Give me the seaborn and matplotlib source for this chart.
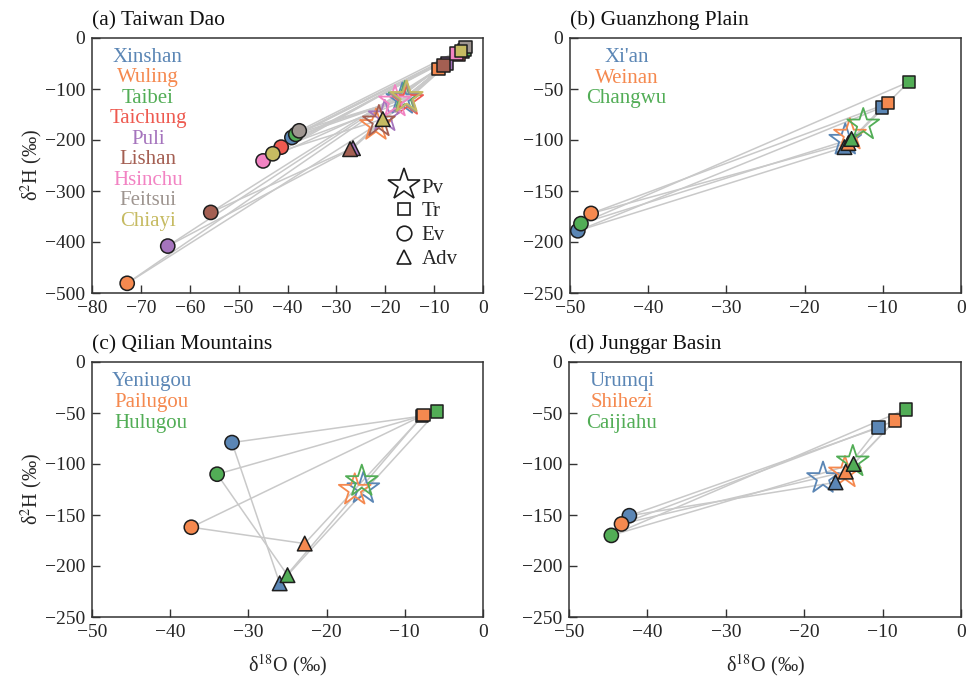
import numpy as np
import pandas as pd
import matplotlib
matplotlib.use("Agg")
import matplotlib.pyplot as plt
from matplotlib.lines import Line2D
import seaborn as sns

# ---------------- colours ----------------
BLUE, ORANGE, GREEN, RED = "#5B86B5", "#F5894F", "#52AD56", "#EE5A50"
PURPLE, BROWN, PINK, GRAY, OLIVE = "#A574BD", "#A45F52", "#F283C3", "#9E9590", "#C6BB62"

# ---------------- (a) Taiwan Dao ----------------
a_sites = ["Xinshan", "Wuling", "Taibei", "Taichung", "Puli", "Lishan", "Hsinchu", "Feitsui", "Chiayi"]
a_colors = [BLUE, ORANGE, GREEN, RED, PURPLE, BROWN, PINK, GRAY, OLIVE]
a_pv_x = [-16.5, -21.9, -16.0, -15.5, -20.1, -21.3, -18.0, -15.8, -15.6]
a_pv_y = [-120, -171, -117, -122, -154, -164, -125, -118, -116]
a_tr_x = [-4.2, -9.1, -3.8, -5.0, -7.4, -8.1, -5.4, -3.6, -4.5]
a_tr_y = [-27, -61, -23, -32, -50, -54, -30, -18, -25]
a_ev_x = [-39.1, -72.8, -38.3, -41.3, -64.5, -55.7, -45.0, -37.6, -43.0]
a_ev_y = [-195, -481, -189, -214, -408, -342, -241, -182, -227]
a_adv_x = [np.nan, np.nan, np.nan, np.nan, -26.6, -27.2, np.nan, np.nan, -20.5]
a_adv_y = [np.nan, np.nan, np.nan, np.nan, -216, -218, np.nan, np.nan, -159]

# ---------------- (b) Guanzhong Plain ----------------
b_sites = ["Xi'an", "Weinan", "Changwu"]
b_colors = [BLUE, ORANGE, GREEN]
b_pv_x = [-14.8, -14.2, -12.5]
b_pv_y = [-100, -95, -85]
b_tr_x = [-10.1, -9.3, -6.65]
b_tr_y = [-68, -64, -43]
b_ev_x = [-49.0, -47.3, -48.6]
b_ev_y = [-189, -172, -182]
b_adv_x = [-14.9, -14.4, -14.0]
b_adv_y = [-107, -103, -99]

# ---------------- (c) Qilian Mountains ----------------
c_sites = ["Yeniugou", "Pailugou", "Hulugou"]
c_colors = [BLUE, ORANGE, GREEN]
c_pv_x = [-15.3, -16.4, -15.5]
c_pv_y = [-124, -125.5, -117]
c_tr_x = [-7.8, -7.6, -5.9]
c_tr_y = [-53, -52, -48.7]
c_ev_x = [-32.1, -37.3, -34.0]
c_ev_y = [-79, -162, -110]
c_adv_x = [-26.0, -22.8, -25.0]
c_adv_y = [-217, -178, -209]

# ---------------- (d) Junggar Basin ----------------
d_sites = ["Urumqi", "Shihezi", "Caijiahu"]
d_colors = [BLUE, ORANGE, GREEN]
d_pv_x = [-17.6, -14.8, -13.8]
d_pv_y = [-114, -108.5, -97.7]
d_tr_x = [-10.5, -8.4, -7.05]
d_tr_y = [-64.4, -57.5, -46.4]
d_ev_x = [-42.3, -43.3, -44.6]
d_ev_y = [-150.7, -158.8, -170]
d_adv_x = [-16.0, -14.7, -13.7]
d_adv_y = [-118, -107.5, -100]

titles = ["(a) Taiwan Dao", "(b) Guanzhong Plain", "(c) Qilian Mountains", "(d) Junggar Basin"]
type_labels = ["Pv", "Tr", "Ev", "Adv"]

sns.set_style("ticks")
plt.rcParams["font.family"] = ["Liberation Serif", "DejaVu Serif"]
plt.rcParams["mathtext.fontset"] = "stix"
plt.rcParams["axes.unicode_minus"] = True

LINE_C = "#C9C9C9"
EDGE_C = "#1E1E1E"

fig = plt.figure(figsize=(9.72, 6.81), dpi=100)
W, H = 972.0, 681.0
def add_ax(l, t, r, b):
    return fig.add_axes([l / W, 1 - b / H, (r - l) / W, (b - t) / H])

axA = add_ax(92, 38, 483, 293)
axB = add_ax(570, 38, 961, 293)
axC = add_ax(92, 362, 483, 617)
axD = add_ax(569, 362, 961, 617)


def draw_panel(ax, sites, colors, pv_x, pv_y, tr_x, tr_y, ev_x, ev_y, adv_x, adv_y,
               title, label_x, label_y0, label_dy):
    pal = dict(zip(sites, colors))
    # connecting lines
    for i in range(len(sites)):
        if np.isnan(adv_x[i]):
            tx, ty = pv_x[i], pv_y[i]
        else:
            tx, ty = adv_x[i], adv_y[i]
        for (x0, y0, x1, y1) in [(ev_x[i], ev_y[i], tr_x[i], tr_y[i]),
                                 (ev_x[i], ev_y[i], tx, ty),
                                 (tr_x[i], tr_y[i], tx, ty)]:
            ax.plot([x0, x1], [y0, y1], color=LINE_C, lw=1.1, zorder=1)

    def frame(xs, ys):
        df = pd.DataFrame({"site": sites, "x": xs, "y": ys}).dropna()
        return df

    # Pv stars (hollow, coloured edge)
    n0 = len(ax.collections)
    sns.scatterplot(data=frame(pv_x, pv_y), x="x", y="y", hue="site", hue_order=sites,
                    palette=pal, marker="*", s=580, linewidth=0, legend=False, ax=ax, zorder=2)
    coll = ax.collections[n0]
    fcs = coll.get_facecolors()
    coll.set_edgecolors(fcs)
    coll.set_facecolors("none")
    coll.set_linewidths(1.3)
    # Tr squares
    sns.scatterplot(data=frame(tr_x, tr_y), x="x", y="y", hue="site", hue_order=sites,
                    palette=pal, marker="s", s=80, edgecolor=EDGE_C, linewidth=1.1,
                    legend=False, ax=ax, zorder=3)
    # Ev circles
    sns.scatterplot(data=frame(ev_x, ev_y), x="x", y="y", hue="site", hue_order=sites,
                    palette=pal, marker="o", s=105, edgecolor=EDGE_C, linewidth=1.1,
                    legend=False, ax=ax, zorder=3)
    # Adv triangles
    sns.scatterplot(data=frame(adv_x, adv_y), x="x", y="y", hue="site", hue_order=sites,
                    palette=pal, marker="^", s=110, edgecolor=EDGE_C, linewidth=1.1,
                    legend=False, ax=ax, zorder=4)

    # site names
    for k, (s, c) in enumerate(zip(sites, colors)):
        ax.text(label_x, label_y0 - k * label_dy, s, color=c, fontsize=15,
                ha="center", va="center", transform=ax.transAxes)

    ax.set_title(title, loc="left", fontsize=15.5, pad=9, color="#111111")
    ax.set_xlabel("")
    ax.set_ylabel("")
    for sp in ax.spines.values():
        sp.set_visible(True)
        sp.set_color("#333333")
        sp.set_linewidth(1.1)
    ax.tick_params(direction="in", length=5.5, width=1.0, color="#333333",
                   labelsize=14, pad=5, top=False, right=False)


draw_panel(axA, a_sites, a_colors, a_pv_x, a_pv_y, a_tr_x, a_tr_y, a_ev_x, a_ev_y,
           a_adv_x, a_adv_y, titles[0], 0.143, 0.925, 0.0805)
draw_panel(axB, b_sites, b_colors, b_pv_x, b_pv_y, b_tr_x, b_tr_y, b_ev_x, b_ev_y,
           b_adv_x, b_adv_y, titles[1], 0.145, 0.925, 0.082)
draw_panel(axC, c_sites, c_colors, c_pv_x, c_pv_y, c_tr_x, c_tr_y, c_ev_x, c_ev_y,
           c_adv_x, c_adv_y, titles[2], 0.152, 0.922, 0.082)
draw_panel(axD, d_sites, d_colors, d_pv_x, d_pv_y, d_tr_x, d_tr_y, d_ev_x, d_ev_y,
           d_adv_x, d_adv_y, titles[3], 0.135, 0.922, 0.082)

axA.set_xlim(-80, 0)
axA.set_ylim(-500, 0)
axA.set_xticks(np.arange(-80, 1, 10))
axA.set_yticks(np.arange(-500, 1, 100))
for ax in (axB, axC, axD):
    ax.set_xlim(-50, 0)
    ax.set_ylim(-250, 0)
    ax.set_xticks(np.arange(-50, 1, 10))
    ax.set_yticks(np.arange(-250, 1, 50))

ylab = r"δ$^{\mathrm{2}}$H (‰)"
xlab = r"δ$^{\mathrm{18}}$O (‰)"
axA.set_ylabel(ylab, fontsize=14.5, labelpad=0)
axC.set_ylabel(ylab, fontsize=14.5, labelpad=0)
axC.set_xlabel(xlab, fontsize=14.5, labelpad=8)
axD.set_xlabel(xlab, fontsize=14.5, labelpad=8)

# marker legend in (a)
handles = [
    Line2D([], [], ls="", marker="*", ms=24, mfc="none", mec=EDGE_C, mew=1.2, label=type_labels[0]),
    Line2D([], [], ls="", marker="s", ms=9, mfc="none", mec=EDGE_C, mew=1.2, label=type_labels[1]),
    Line2D([], [], ls="", marker="o", ms=10.5, mfc="none", mec=EDGE_C, mew=1.2, label=type_labels[2]),
    Line2D([], [], ls="", marker="^", ms=10, mfc="none", mec=EDGE_C, mew=1.2, label=type_labels[3]),
]
axA.legend(handles=handles, loc="upper left", bbox_to_anchor=(0.757, 0.451),
           frameon=False, borderpad=0, borderaxespad=0, handlelength=1.5,
           handletextpad=0.1, labelspacing=0.2, prop={"size": 15})

fig.savefig("out.png", dpi=100)
